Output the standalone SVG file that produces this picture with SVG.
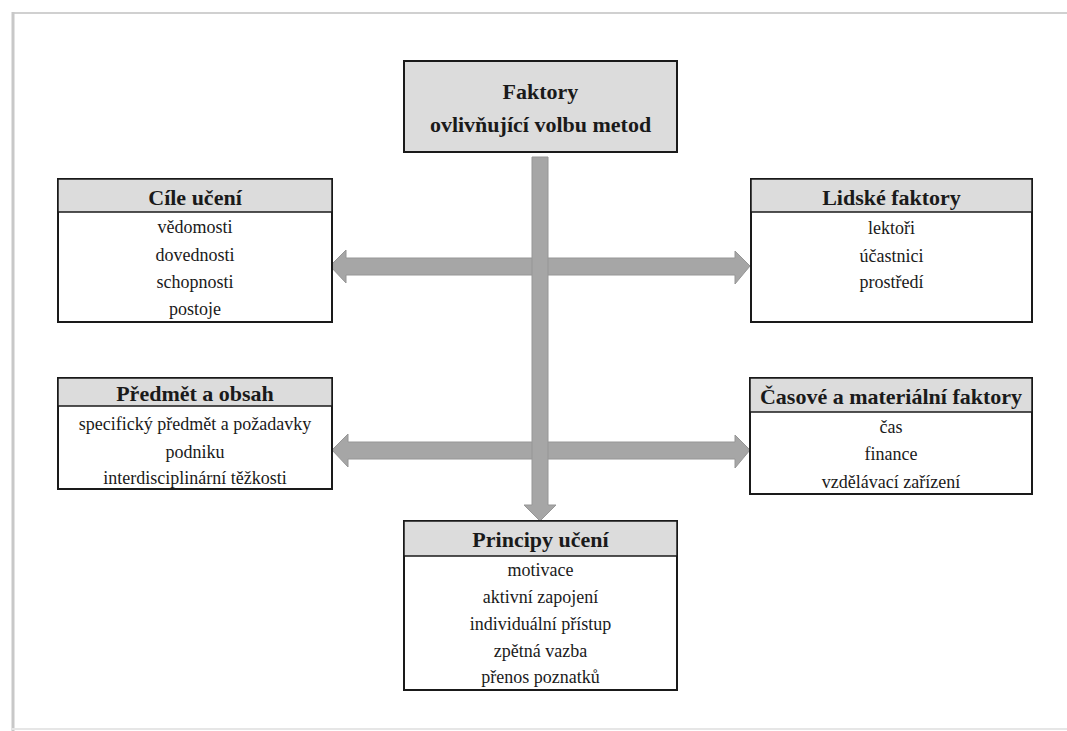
<svg xmlns="http://www.w3.org/2000/svg" width="1067" height="731" viewBox="0 0 1067 731">
<defs>
<style>
.box{fill:#ffffff;stroke:#1a1a1a;stroke-width:2}
.hdr{fill:#dcdcdc;stroke:#1a1a1a;stroke-width:1.5}
.ttl{font-family:"Liberation Serif","Times New Roman","DejaVu Serif",serif;font-weight:bold;font-size:22px;fill:#1a1a1a;text-anchor:middle}
.txt{font-family:"Liberation Serif","Times New Roman","DejaVu Serif",serif;font-size:18px;fill:#1a1a1a;text-anchor:middle}
.arr{fill:#a6a6a6;stroke:#969696;stroke-width:1}
</style>
</defs>
<rect width="1067" height="731" fill="#ffffff"/>
<g id="frame">
<line x1="12" y1="13" x2="1067" y2="13" stroke="#d0d0d0" stroke-width="2"/>
<line x1="13" y1="12" x2="13" y2="731" stroke="#c8c8c8" stroke-width="3"/>
<line x1="12" y1="729" x2="1067" y2="729" stroke="#e6e6e6" stroke-width="2"/>
</g>
<g id="connectors">
<polygon class="arr" points="540,258 346,258 346,250 330,266 346,283 346,275 540,275"/>
<polygon class="arr" points="540,258 735,258 735,251 750,266 735,284 735,275 540,275"/>
<polygon class="arr" points="540,442 348,442 348,434 332,450 348,467 348,459 540,459"/>
<polygon class="arr" points="540,442 735,442 735,435 750,450 735,468 735,459 540,459"/>
<polygon class="arr" points="532,157 548,157 548,505 556,505 540,521 524,505 532,505"/>
</g>
<g id="node-top">
<rect x="404" y="61" width="273" height="91" fill="#dcdcdc" stroke="#1a1a1a" stroke-width="2"/>
<text class="ttl" x="540.5" y="99">Faktory</text>
<text class="ttl" x="540.5" y="132">ovlivňující volbu metod</text>
</g>
<g id="node-cile">
<rect class="box" x="58" y="179" width="274" height="143"/>
<rect class="hdr" x="58" y="179" width="274" height="33"/>
<text class="ttl" x="195" y="205">Cíle učení</text>
<text class="txt" x="195" y="233">vědomosti</text>
<text class="txt" x="195" y="261">dovednosti</text>
<text class="txt" x="195" y="288">schopnosti</text>
<text class="txt" x="195" y="315">postoje</text>
</g>
<g id="node-lidske">
<rect class="box" x="751" y="179" width="281" height="143"/>
<rect class="hdr" x="751" y="179" width="281" height="33"/>
<text class="ttl" x="891.5" y="205">Lidské faktory</text>
<text class="txt" x="891.5" y="234">lektoři</text>
<text class="txt" x="891.5" y="262">účastnici</text>
<text class="txt" x="891.5" y="288">prostředí</text>
</g>
<g id="node-predmet">
<rect class="box" x="58" y="378" width="274" height="111"/>
<rect class="hdr" x="58" y="378" width="274" height="28"/>
<text class="ttl" x="195" y="401">Předmět a obsah</text>
<text class="txt" x="195" y="430">specifický předmět a požadavky</text>
<text class="txt" x="195" y="458">podniku</text>
<text class="txt" x="195" y="484">interdisciplinární těžkosti</text>
</g>
<g id="node-casove">
<rect class="box" x="750" y="378" width="282" height="116"/>
<rect class="hdr" x="750" y="378" width="282" height="34"/>
<text class="ttl" x="891" y="404">Časové a materiální faktory</text>
<text class="txt" x="891" y="433">čas</text>
<text class="txt" x="891" y="460">finance</text>
<text class="txt" x="891" y="488">vzdělávací zařízení</text>
</g>
<g id="node-principy">
<rect class="box" x="404" y="521" width="273" height="169"/>
<rect class="hdr" x="404" y="521" width="273" height="35"/>
<text class="ttl" x="540.5" y="547">Principy učení</text>
<text class="txt" x="540.5" y="576">motivace</text>
<text class="txt" x="540.5" y="603">aktivní zapojení</text>
<text class="txt" x="540.5" y="630">individuální přístup</text>
<text class="txt" x="540.5" y="657">zpětná vazba</text>
<text class="txt" x="540.5" y="683">přenos poznatků</text>
</g>
</svg>
